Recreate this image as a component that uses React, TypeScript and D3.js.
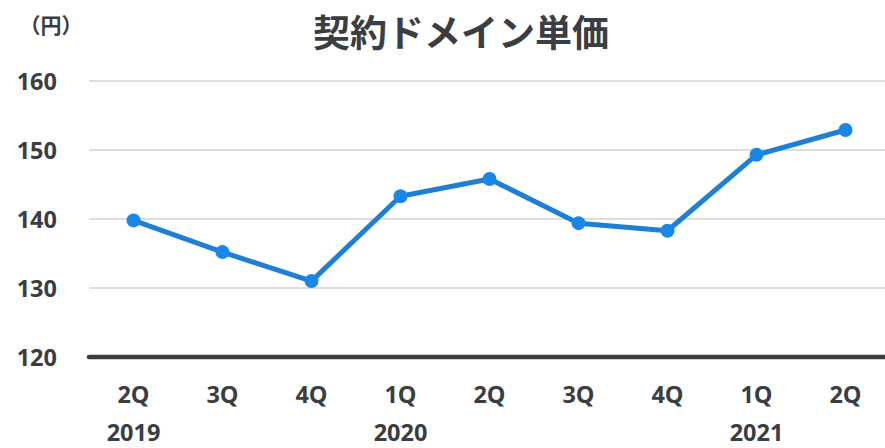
import React from "react";
import * as d3 from "d3";

const quarters = ["2Q", "3Q", "4Q", "1Q", "2Q", "3Q", "4Q", "1Q", "2Q"];
const years = ["2019", "", "", "2020", "", "", "", "2021", ""];
const prices = [139.8, 135.2, 131.0, 143.3, 145.8, 139.4, 138.3, 149.3, 152.9];
const yTicks = [120, 130, 140, 150, 160];
const title = "契約ドメイン単価";
const unitLabel = "（円）";

const W = 885;
const H = 448;
const plotLeft = 89;
const plotRight = 890;
const plotTop = 81;
const plotBottom = 357;

const numFont = "'Open Sans', 'Noto Sans', sans-serif";
const jpFont = "'Noto Sans CJK JP', 'Noto Sans', sans-serif";
const textColor = "#3a3d42";

export default function App() {
  const idx = quarters.map((_, i) => String(i));
  const x = d3.scaleBand<string>().domain(idx).range([plotLeft, plotRight]).padding(0);
  const cx = (i: number) => (x(String(i)) as number) + x.bandwidth() / 2;
  const y = d3.scaleLinear().domain([120, 160]).range([plotBottom, plotTop]);
  const line = d3
    .line<number>()
    .x((_, i) => cx(i))
    .y((d) => y(d));

  return (
    <div style={{ position: "fixed", left: 0, top: 0 }}>
      <svg width={W} height={H} style={{ display: "block", background: "#fff" }}>
        <text
          x={461}
          y={47}
          textAnchor="middle"
          fontFamily={jpFont}
          fontWeight={700}
          fontSize={37}
          fill={textColor}
        >
          {title}
        </text>
        <text x={51} y={33} textAnchor="middle" fontFamily={jpFont} fontWeight={700} fontSize={21} fill={textColor}>
          {unitLabel}
        </text>
        {yTicks.map((t) =>
          t === 120 ? null : (
            <line key={"g" + t} x1={plotLeft} x2={W} y1={y(t)} y2={y(t)} stroke="#dedee2" strokeWidth={2} />
          )
        )}
        {yTicks.map((t) => (
          <text
            key={"yl" + t}
            x={57}
            y={y(t) + 8.5}
            textAnchor="end"
            fontFamily={numFont}
            fontWeight={700}
            fontSize={23.5}
            fill={textColor}
          >
            {t}
          </text>
        ))}
        <line
          x1={plotLeft}
          x2={W + 4}
          y1={y(120)}
          y2={y(120)}
          stroke={textColor}
          strokeWidth={4.5}
          strokeLinecap="round"
        />
        {quarters.map((q, i) => (
          <text
            key={"q" + i}
            x={cx(i)}
            y={403}
            textAnchor="middle"
            fontFamily={numFont}
            fontWeight={700}
            fontSize={23.5}
            fill={textColor}
          >
            {q}
          </text>
        ))}
        {years.map((yr, i) =>
          yr ? (
            <text
              key={"y" + i}
              x={cx(i)}
              y={441}
              textAnchor="middle"
              fontFamily={numFont}
              fontWeight={700}
              fontSize={23.5}
              fill={textColor}
            >
              {yr}
            </text>
          ) : null
        )}
        <path d={line(prices) || ""} fill="none" stroke="#1f7fd5" strokeWidth={5} strokeLinejoin="round" />
        {prices.map((p, i) => (
          <circle key={"p" + i} cx={cx(i)} cy={y(p)} r={7} fill="#1a86e8" />
        ))}
      </svg>
    </div>
  );
}
